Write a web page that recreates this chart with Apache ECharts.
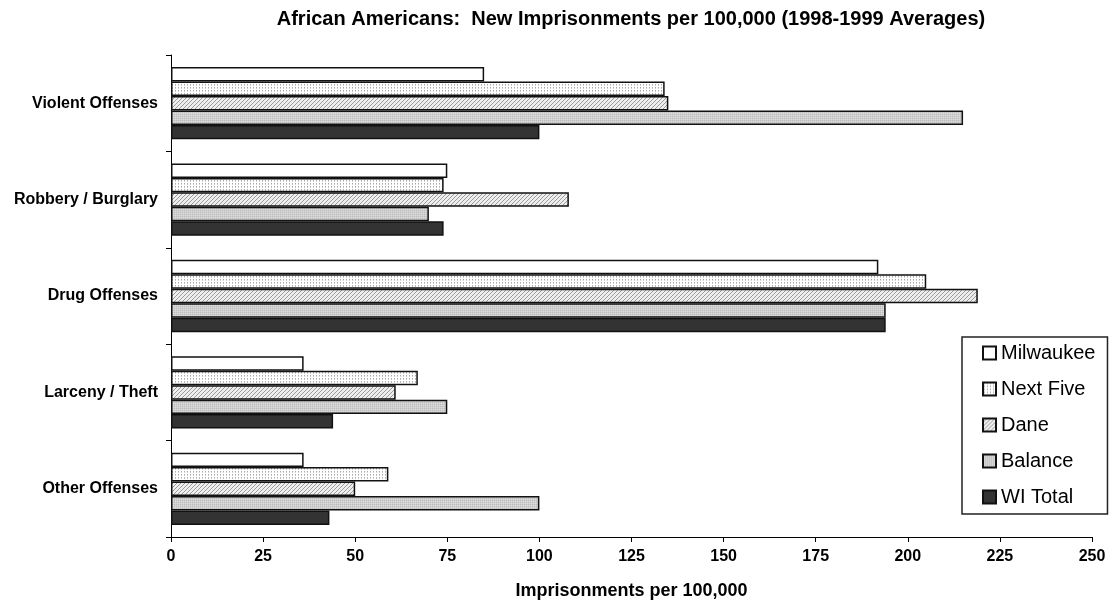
<!DOCTYPE html>
<html><head><meta charset="utf-8">
<script src="https://cdn.jsdelivr.net/npm/echarts@6/dist/echarts.min.js"></script>
<style>html,body{margin:0;padding:0;background:#fff}#c{width:1115px;height:602px}</style>
</head><body><div id="c"></div>
<script>
const categories = ['Violent Offenses', 'Robbery / Burglary', 'Drug Offenses', 'Larceny / Theft', 'Other Offenses'];
const seriesNames = ['Milwaukee', 'Next Five', 'Dane', 'Balance', 'WI Total'];
const milwaukee = [85, 75, 192, 36, 36];
const nextFive = [134, 74, 205, 67, 59];
const dane = [135, 108, 219, 61, 50];
const balance = [215, 70, 194, 75, 100];
const wiTotal = [100, 74, 194, 44, 43];
const xMin = 0, xMax = 250, xStep = 25;

const FONT = '"Liberation Sans", Arial, Helvetica, sans-serif';

function pattern(w, h, bg, pixels) {
  const c = document.createElement('canvas');
  c.width = w; c.height = h;
  const g = c.getContext('2d');
  g.fillStyle = bg; g.fillRect(0, 0, w, h);
  pixels.forEach(p => { g.fillStyle = p[2]; g.fillRect(p[0], p[1], 1, 1); });
  return { image: c, repeat: 'repeat' };
}
const fills = [
  '#ffffff',
  pattern(3, 3, '#ffffff', [[1, 0, '#aaaaaa'], [1, 1, '#cccccc']]),
  pattern(4, 4, '#eeeeee', [[0, 3, '#9a9a9a'], [1, 2, '#9a9a9a'], [2, 1, '#9a9a9a'], [3, 0, '#9a9a9a']]),
  pattern(2, 2, '#cfcfcf', [[0, 0, '#bdbdbd'], [1, 1, '#dcdcdc']]),
  '#333333'
];
const values = [milwaukee, nextFive, dane, balance, wiTotal];

const chart = echarts.init(document.getElementById('c'), null, { renderer: 'canvas' });
chart.setOption({
  animation: false,
  backgroundColor: '#fff',
  title: {
    text: 'African Americans:  New Imprisonments per 100,000 (1998-1999 Averages)',
    left: 626, top: 4, textAlign: 'center',
    textStyle: { fontFamily: FONT, fontSize: 20, fontWeight: 'bold', color: '#000' }
  },
  legend: {
    data: seriesNames,
    orient: 'vertical',
    left: 962, top: 337,
    padding: [5, 12, 6, 20],
    itemWidth: 13, itemHeight: 13, itemGap: 14,
    icon: 'rect',
    borderColor: '#222', borderWidth: 1.5, backgroundColor: '#fff',
    textStyle: { fontFamily: FONT, fontSize: 20, color: '#000', lineHeight: 22 }
  },
  grid: { left: 171, right: 23, top: 55, bottom: 65, containLabel: false, outerBoundsMode: 'none' },
  xAxis: {
    type: 'value', min: xMin, max: xMax, interval: xStep,
    name: 'Imprisonments per 100,000', nameLocation: 'middle', nameGap: 45,
    nameTextStyle: { fontFamily: FONT, fontSize: 18, fontWeight: 'bold', color: '#000' },
    axisLine: { show: true, lineStyle: { color: '#000', width: 1 } },
    axisTick: { show: true, inside: false, length: 5, lineStyle: { color: '#000' } },
    axisLabel: { fontFamily: FONT, fontSize: 16, fontWeight: 'bold', color: '#000', margin: 12 },
    splitLine: { show: false }
  },
  yAxis: {
    type: 'category', data: categories, inverse: true,
    axisLine: { show: true, lineStyle: { color: '#000', width: 1 } },
    axisTick: { show: true, inside: false, length: 5, lineStyle: { color: '#000' } },
    axisLabel: { fontFamily: FONT, fontSize: 16, fontWeight: 'bold', color: '#000', margin: 13 },
    splitLine: { show: false }
  },
  series: seriesNames.map((n, i) => ({
    name: n, type: 'bar', data: values[i],
    barGap: '0%', barCategoryGap: '25%',
    itemStyle: { color: fills[i], borderColor: '#111', borderWidth: 1.5 }
  }))
});
</script></body></html>
